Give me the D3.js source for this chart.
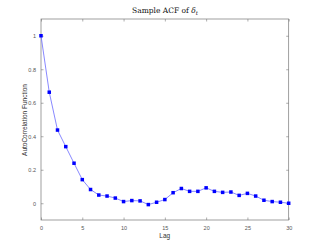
<!DOCTYPE html>
<html><head><meta charset="utf-8">
<script src="https://cdn.jsdelivr.net/npm/d3@7"></script>
<style>body{margin:0;background:#fff}svg{display:block}</style>
</head><body>
<script>
const lags = d3.range(0, 31);
const acf = [1, 0.663, 0.437, 0.338, 0.239, 0.141, 0.082, 0.049, 0.043, 0.031, 0.010,
  0.016, 0.014, -0.008, 0.006, 0.022, 0.063, 0.088, 0.071, 0.071, 0.092,
  0.071, 0.065, 0.067, 0.047, 0.059, 0.043, 0.018, 0.010, 0.006, 0.000];
const xTicks = [0, 5, 10, 15, 20, 25, 30];
const yTicks = [0, 0.2, 0.4, 0.6, 0.8, 1];

const W = 319, H = 249;
const L = 41, R = 288.7, T = 19, B = 220;
const svg = d3.select("body").append("svg").attr("width", W).attr("height", H);
const x = d3.scaleLinear().domain([0, 30]).range([L, R]);
const y = d3.scaleLinear().domain([-0.1, 1.1]).range([B, T]);

const axCol = "#777";
const lblCol = "#555";
const fmt = d => d3.format("")(d);

function styleAxis(g, showLabels) {
  g.select(".domain").remove();
  g.selectAll(".tick line").attr("stroke", axCol).attr("stroke-width", 0.6);
  g.selectAll(".tick text").attr("fill", lblCol).attr("font-family", "Liberation Sans, Arial, sans-serif").attr("font-size", 5.5);
  if (!showLabels) g.selectAll(".tick text").remove();
}
svg.append("g").attr("transform", `translate(0,${B})`)
  .call(d3.axisBottom(x).tickValues(xTicks).tickSize(-2.5).tickPadding(6).tickFormat(fmt))
  .call(g => styleAxis(g, true));
svg.append("g").attr("transform", `translate(0,${T})`)
  .call(d3.axisTop(x).tickValues(xTicks).tickSize(-2.5))
  .call(g => styleAxis(g, false));
svg.append("g").attr("transform", `translate(${L},0)`)
  .call(d3.axisLeft(y).tickValues(yTicks).tickSize(-2.5).tickPadding(5).tickFormat(fmt))
  .call(g => styleAxis(g, true));
svg.append("g").attr("transform", `translate(${R},0)`)
  .call(d3.axisRight(y).tickValues(yTicks).tickSize(-2.5))
  .call(g => styleAxis(g, false));

svg.append("rect").attr("x", L).attr("y", T).attr("width", R - L).attr("height", B - T)
  .attr("fill", "none").attr("stroke", axCol).attr("stroke-width", 0.7);

const pts = lags.map((l, i) => [l, acf[i]]);
svg.append("path").datum(pts)
  .attr("d", d3.line().x(d => x(d[0])).y(d => y(d[1])))
  .attr("fill", "none").attr("stroke", "#6a6aff").attr("stroke-width", 0.8);
svg.append("g").selectAll("rect").data(pts).join("rect")
  .attr("x", d => x(d[0]) - 1.75).attr("y", d => y(d[1]) - 1.75)
  .attr("width", 3.5).attr("height", 3.5).attr("fill", "#0000ff");

const title = svg.append("text").attr("x", 165).attr("y", 13).attr("text-anchor", "middle")
  .attr("font-family", "DejaVu Serif, Liberation Serif, serif").attr("font-size", 7.5).attr("fill", "#111");
title.append("tspan").text("Sample ACF of ");
title.append("tspan").attr("font-style", "italic").text("δ");
title.append("tspan").attr("font-style", "italic").attr("font-size", 5.5).attr("dy", 1.5).text("t");

svg.append("text").attr("x", 164.8).attr("y", 238).attr("text-anchor", "middle")
  .attr("font-family", "Liberation Sans, Arial, sans-serif").attr("font-size", 6.5).attr("fill", "#333").text("Lag");
svg.append("text").attr("transform", "translate(27,120) rotate(-90)").attr("text-anchor", "middle")
  .attr("font-family", "Liberation Sans, Arial, sans-serif").attr("font-size", 6.5).attr("fill", "#333")
  .text("AutoCorrelation Function");
</script>
</body></html>
